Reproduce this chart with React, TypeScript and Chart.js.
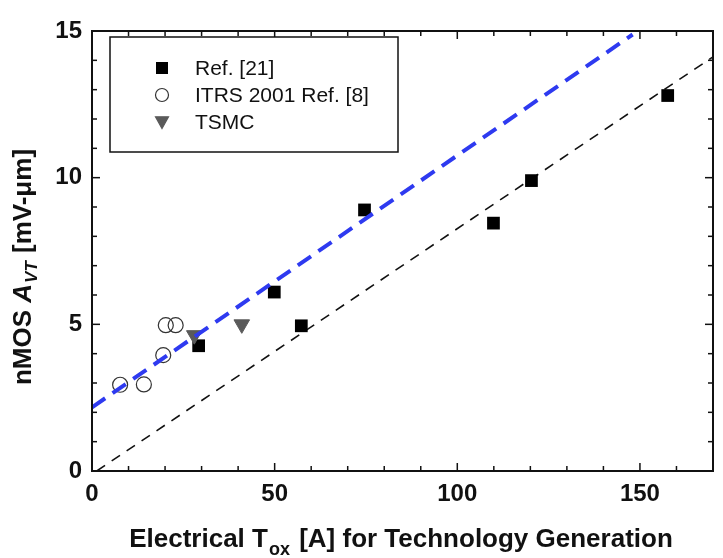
import { useEffect, useRef } from 'react';
import { Chart, registerables } from 'chart.js';

Chart.register(...registerables);

const FONT = '"Liberation Sans", Arial, Helvetica, sans-serif';

// Data series (x = Electrical Tox [A], y = nMOS A_VT [mV-um])
const ref21X = [29.2, 49.9, 57.3, 74.6, 109.9, 120.3, 157.6];
const ref21Y = [4.27, 6.1, 4.95, 8.9, 8.45, 9.9, 12.8];
const itrsX = [7.7, 14.2, 19.5, 20.2, 22.9];
const itrsY = [2.94, 2.95, 3.95, 4.97, 4.97];
const tsmcX = [28.0, 41.0];
const tsmcY = [4.63, 5.0];
const blueFitX = [0, 148];
const blueFitY = [2.17, 14.88];
const blackFitX = [1.3, 170];
const blackFitY = [0, 14.12];

const seriesLabels = ['Ref. [21]', 'ITRS 2001 Ref. [8]', 'TSMC'];
const xMajorTicks = [0, 50, 100, 150];
const yMajorTicks = [0, 5, 10, 15];
const xTitleParts = ['Electrical T', 'ox', ' [A] for Technology Generation'];
const yTitleParts = ['nMOS ', 'A', 'VT', ' [mV-\u03bcm]'];

const toPts = (xs: number[], ys: number[]) => xs.map((x, i) => ({ x, y: ys[i] }));

function drawMarker(ctx: CanvasRenderingContext2D, style: string, x: number, y: number, s: number, fill: string, stroke: string) {
  ctx.save();
  ctx.fillStyle = fill;
  ctx.strokeStyle = stroke;
  ctx.lineWidth = 1.2;
  if (style === 'rect') {
    ctx.fillRect(x - s / 2, y - s / 2, s, s);
  } else if (style === 'circle') {
    ctx.beginPath();
    ctx.arc(x, y, s / 2, 0, Math.PI * 2);
    ctx.stroke();
  } else {
    ctx.beginPath();
    ctx.moveTo(x - s / 2, y - s * 0.4);
    ctx.lineTo(x + s / 2, y - s * 0.4);
    ctx.lineTo(x, y + s * 0.5);
    ctx.closePath();
    ctx.fill();
    ctx.stroke();
  }
  ctx.restore();
}

const decorPlugin = {
  id: 'decor',
  afterDatasetsDraw(chart: any) {
    const { ctx, chartArea } = chart;
    const { left, right, top, bottom } = chartArea;
    const xs = chart.scales.x;
    const ys = chart.scales.y;
    ctx.save();
    ctx.strokeStyle = '#111';
    ctx.lineWidth = 2;
    ctx.strokeRect(left, top, right - left, bottom - top);
    ctx.lineWidth = 1.5;
    const seg = (x1: number, y1: number, x2: number, y2: number) => {
      ctx.beginPath();
      ctx.moveTo(x1, y1);
      ctx.lineTo(x2, y2);
      ctx.stroke();
    };
    xs.ticks.forEach((t: any) => {
      if (t.value <= xs.min || t.value >= xs.max) return;
      const px = xs.getPixelForValue(t.value);
      const len = xMajorTicks.includes(t.value) ? 8 : 5;
      seg(px, bottom, px, bottom - len);
      seg(px, top, px, top + len);
    });
    ys.ticks.forEach((t: any) => {
      if (t.value <= ys.min || t.value >= ys.max) return;
      const py = ys.getPixelForValue(t.value);
      const len = yMajorTicks.includes(t.value) ? 8 : 5;
      seg(left, py, left + len, py);
      seg(right, py, right - len, py);
    });

    // Legend box
    const bx = 110, by = 37, bw = 288, bh = 115;
    ctx.fillStyle = '#fff';
    ctx.fillRect(bx, by, bw, bh);
    ctx.lineWidth = 1.5;
    ctx.strokeStyle = '#111';
    ctx.strokeRect(bx, by, bw, bh);
    const legendSets = chart.data.datasets.filter((d: any) => d.inLegend);
    ctx.font = `21px ${FONT}`;
    ctx.textBaseline = 'middle';
    ctx.textAlign = 'left';
    legendSets.forEach((d: any, i: number) => {
      const ry = 68 + i * 27;
      drawMarker(ctx, d.pointStyle, 162, ry, d.pointStyle === 'rect' ? 12 : 13, d.pointBackgroundColor, d.pointBorderColor);
      ctx.fillStyle = '#111';
      ctx.fillText(d.label, 195, ry + 1);
    });
    ctx.restore();
  },
  afterDraw(chart: any) {
    const { ctx } = chart;
    ctx.save();
    ctx.fillStyle = '#111';
    ctx.textBaseline = 'alphabetic';
    ctx.textAlign = 'left';
    // X title
    const big = `bold 26px ${FONT}`;
    const sub = `bold 18px ${FONT}`;
    ctx.font = big;
    const w0 = ctx.measureText(xTitleParts[0]).width;
    const w2 = ctx.measureText(xTitleParts[2]).width;
    ctx.font = sub;
    const w1 = ctx.measureText(xTitleParts[1]).width + 3;
    const total = w0 + w1 + w2;
    let sx = 401 - total / 2;
    const base = 547;
    ctx.font = big;
    ctx.fillText(xTitleParts[0], sx, base);
    sx += w0;
    ctx.font = sub;
    ctx.fillText(xTitleParts[1], sx + 1, base + 8);
    sx += w1;
    ctx.font = big;
    ctx.fillText(xTitleParts[2], sx, base);

    // Y title (rotated)
    ctx.translate(31, 267);
    ctx.rotate(-Math.PI / 2);
    const f0 = `bold 26px ${FONT}`;
    const fA = `italic bold 26px ${FONT}`;
    const fS = `italic bold 17px ${FONT}`;
    const fonts = [f0, fA, fS, f0];
    const widths = yTitleParts.map((p, i) => {
      ctx.font = fonts[i];
      return ctx.measureText(p).width + (i === 2 ? 2 : 0);
    });
    const tw = widths.reduce((a, b) => a + b, 0);
    let cx = -tw / 2;
    yTitleParts.forEach((p, i) => {
      ctx.font = fonts[i];
      ctx.fillText(p, cx + (i === 2 ? 1 : 0), i === 2 ? 6 : 0);
      cx += widths[i];
    });
    ctx.restore();
  },
};

export default function App() {
  const canvasRef = useRef<HTMLCanvasElement | null>(null);

  useEffect(() => {
    if (!canvasRef.current) return;
    const chart = new Chart(canvasRef.current, {
      type: 'scatter',
      data: {
        datasets: [
          {
            type: 'line',
            label: 'fit-blue',
            data: toPts(blueFitX, blueFitY),
            borderColor: '#2e3af0',
            borderWidth: 4,
            borderDash: [16, 9],
            pointRadius: 0,
            fill: false,
            order: 0,
          } as any,
          {
            type: 'line',
            label: 'fit-black',
            data: toPts(blackFitX, blackFitY),
            borderColor: '#111',
            borderWidth: 1.6,
            borderDash: [10, 8],
            pointRadius: 0,
            fill: false,
            order: 5,
          } as any,
          {
            label: seriesLabels[0],
            data: toPts(ref21X, ref21Y),
            pointStyle: 'rect',
            pointRadius: 9,
            pointBackgroundColor: '#000',
            pointBorderColor: '#000',
            pointBorderWidth: 0,
            inLegend: true,
            order: 3,
          } as any,
          {
            label: seriesLabels[1],
            data: toPts(itrsX, itrsY),
            pointStyle: 'circle',
            pointRadius: 7.5,
            pointBackgroundColor: 'rgba(0,0,0,0)',
            pointBorderColor: '#333',
            pointBorderWidth: 1.2,
            inLegend: true,
            order: 4,
          } as any,
          {
            label: seriesLabels[2],
            data: toPts(tsmcX, tsmcY),
            pointStyle: 'triangle',
            rotation: 180,
            pointRotation: 180,
            pointRadius: 9,
            pointBackgroundColor: '#5a5a5a',
            pointBorderColor: '#5a5a5a',
            pointBorderWidth: 1,
            inLegend: true,
            order: 2,
          } as any,
        ],
      },
      options: {
        responsive: false,
        animation: false,
        layout: { padding: { top: 31, right: 4, left: 0, bottom: 0 } },
        plugins: {
          legend: { display: false },
          tooltip: { enabled: false },
          title: { display: false },
        },
        scales: {
          x: {
            type: 'linear',
            min: 0,
            max: 170,
            grid: { display: false, drawTicks: false },
            border: { display: false },
            ticks: {
              stepSize: 10,
              autoSkip: false,
              maxRotation: 0,
              padding: 9,
              color: '#111',
              font: { family: FONT, size: 24, weight: 'bold' },
              callback: (v: any) => (xMajorTicks.includes(Number(v)) ? String(v) : ''),
            },
            afterFit: (s: any) => {
              s.height = 87;
            },
          },
          y: {
            type: 'linear',
            min: 0,
            max: 15,
            grid: { display: false, drawTicks: false },
            border: { display: false },
            ticks: {
              stepSize: 1,
              autoSkip: false,
              padding: 10,
              color: '#111',
              font: { family: FONT, size: 24, weight: 'bold' },
              callback: (v: any) => (yMajorTicks.includes(Number(v)) ? String(v) : ''),
            },
            afterFit: (s: any) => {
              s.width = 92;
            },
          },
        },
      } as any,
      plugins: [decorPlugin],
    });
    return () => chart.destroy();
  }, []);

  return (
    <div style={{ position: 'absolute', left: 0, top: 0, width: 723, height: 558, background: '#fff' }}>
      <canvas ref={canvasRef} width={723} height={558} style={{ display: 'block' }} />
    </div>
  );
}
